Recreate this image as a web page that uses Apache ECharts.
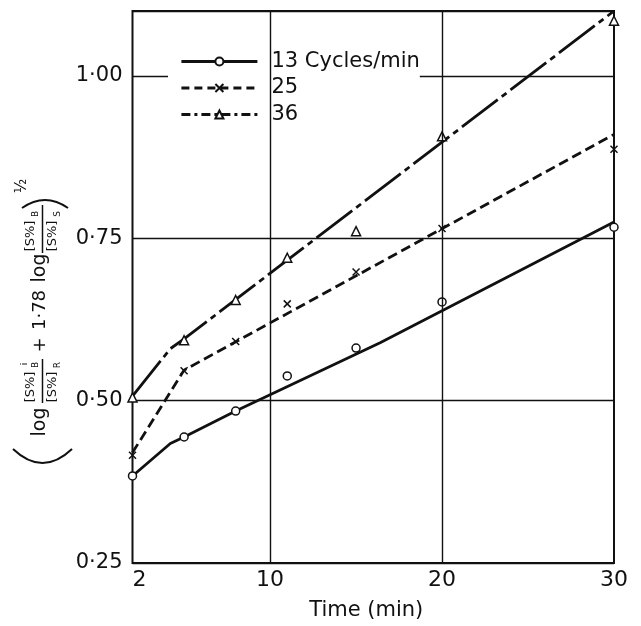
<!DOCTYPE html>
<html>
<head>
<meta charset="utf-8">
<script src="https://cdn.jsdelivr.net/npm/echarts@6/dist/echarts.min.js"></script>
<style>html,body{margin:0;padding:0;background:#fff;}#c{width:641px;height:626px;}</style>
</head>
<body>
<div id="c"></div>
<script>
// ---- data ----
const seriesNames = ['13 Cycles/min', '25', '36'];
const times = [2, 5, 8, 11, 15, 20, 30];
const pts13 = [0.384, 0.444, 0.484, 0.538, 0.581, 0.652, 0.767];
const pts25 = [0.416, 0.546, 0.591, 0.649, 0.698, 0.765, 0.887];
const pts36 = [0.505, 0.593, 0.655, 0.720, 0.761, 0.907, 1.085];
// fitted (hand-drawn) lines
const fitT13 = [2, 4.2, 5, 8, 16.4, 30];
const fitV13 = [0.384, 0.434, 0.444, 0.484, 0.589, 0.775];
const fitT25 = [2, 5, 30];
const fitV25 = [0.42, 0.547, 0.91];
const fitT36 = [2, 4.2, 5, 30];
const fitV36 = [0.507, 0.580, 0.595, 1.10];
const xTicks = [2, 10, 20, 30];
const yTicks = [0.25, 0.50, 0.75, 1.00];
const xGridLines = [10, 20];

const FONT = 'DejaVu Sans';
const INK = '#111';
const zip = (a, b) => a.map((v, i) => [v, b[i]]);
const crossPath = 'path://M0,0L10,10M10,0L0,10';

function lineSeries(name, t, v, dash, symbol, symbolSize) {
  return {
    name, type: 'line', data: zip(t, v), showSymbol: false,
    symbol, symbolSize,
    itemStyle: { color: symbol === crossPath ? INK : '#fff', borderColor: INK, borderWidth: 1.5 },
    lineStyle: { color: INK, width: 2.8, type: dash },
    emphasis: { disabled: true }, silent: true, z: 3
  };
}
function pointSeries(name, v, symbol, size) {
  return {
    name: name + ' pts', type: 'scatter', data: zip(times, v),
    symbol, symbolSize: size,
    itemStyle: { color: symbol === crossPath ? INK : '#fff', borderColor: INK, borderWidth: 1.5, opacity: 1 },
    emphasis: { disabled: true }, silent: true, z: 4
  };
}

const s13 = lineSeries(seriesNames[0], fitT13, fitV13, 'solid', 'circle', 8);
s13.markLine = {
  silent: true, symbol: ['none', 'none'], label: { show: false },
  lineStyle: { color: INK, width: 1.4, type: 'solid' },
  emphasis: { disabled: true },
  data: xGridLines.map(x => ({ xAxis: x }))
};
s13.z = 2;

// y-axis title pieces (rotated text)
function rt(text, x, y, size) {
  return { type: 'text', x, y, rotation: Math.PI / 2, silent: true,
    style: { text, fontSize: size, fontFamily: FONT, fill: INK, align: 'center', verticalAlign: 'middle' } };
}
function vbar(x, y1, y2) {
  return { type: 'line', silent: true, shape: { x1: x, y1, x2: x, y2 }, style: { stroke: INK, lineWidth: 1.5 } };
}
function paren(x1, x2, y, cpy) {
  return { type: 'bezierCurve', silent: true,
    shape: { x1, y1: y, x2, y2: y, cpx1: (x1 + x2) / 2, cpy1: cpy },
    style: { stroke: INK, lineWidth: 2, fill: null } };
}
const titleEls = [
  paren(13, 72, 449, 477),
  rt('log', 40, 422, 19),
  rt('[S%]', 31, 387, 13), rt('B', 36, 365, 9), rt('i', 25, 364, 9),
  vbar(42.5, 359, 403),
  rt('[S%]', 53, 387, 13), rt('R', 58, 365, 9),
  rt('+', 40, 345, 18),
  rt('1·78', 40, 310, 18),
  rt('log', 40, 268, 19),
  rt('[S%]', 31, 236, 13), rt('B', 36, 214, 9),
  vbar(42.5, 205, 253),
  rt('[S%]', 53, 236, 13), rt('S', 58, 214, 9),
  paren(22, 68, 208, 192),
  rt('½', 22, 186, 15)
];

const chart = echarts.init(document.getElementById('c'), null, { renderer: 'canvas' });
chart.setOption({
  animation: false,
  backgroundColor: '#fff',
  textStyle: { fontFamily: FONT, color: INK },
  grid: { left: 132.5, right: 27, top: 11, bottom: 59, show: true, borderColor: INK, borderWidth: 2, backgroundColor: 'transparent' },
  legend: {
    orient: 'vertical', left: 168, top: 44.5, padding: [6.5, 0, 2.5, 12],
    backgroundColor: '#fff', itemGap: 5.5, itemWidth: 76, itemHeight: 10,
    data: [
      { name: seriesNames[0], lineStyle: { color: INK, width: 2.8, type: 'solid' } },
      { name: seriesNames[1], lineStyle: { color: INK, width: 2.8, type: [8, 5] } },
      { name: seriesNames[2], lineStyle: { color: INK, width: 2.8, type: [9, 4, 3, 4] } }
    ],
    selectedMode: false,
    textStyle: { fontSize: 21, lineHeight: 21, color: INK, fontFamily: FONT, padding: [0, 0, 0, 9] }
  },
  xAxis: {
    type: 'value', min: 2, max: 30,
    name: 'Time (min)', nameLocation: 'middle', nameGap: 37,
    nameTextStyle: { fontSize: 21, color: INK, fontFamily: FONT, padding: [0, 14, 0, 0] },
    axisLine: { show: false }, axisTick: { show: false, customValues: xTicks },
    splitLine: { show: false },
    axisLabel: { customValues: xTicks, fontSize: 22, color: INK, margin: 6, fontFamily: FONT, alignMinLabel: 'left',
      formatter: v => String(v) }
  },
  yAxis: {
    type: 'value', min: 0.25, max: 1.10, interval: 0.25,
    axisLine: { show: false }, axisTick: { show: false },
    splitLine: { show: true, lineStyle: { color: INK, width: 1.4 } },
    axisLabel: { fontSize: 21, color: INK, margin: 10, fontFamily: FONT,
      formatter: v => yTicks.some(t => Math.abs(t - v) < 1e-6) ? v.toFixed(2).replace('.', '·') : '' }
  },
  graphic: { elements: titleEls },
  series: [
    s13,
    lineSeries(seriesNames[1], fitT25, fitV25, [10, 5], crossPath, 7),
    lineSeries(seriesNames[2], fitT36, fitV36, [45, 5, 6, 5], 'triangle', 9),
    pointSeries(seriesNames[0], pts13, 'circle', 8),
    pointSeries(seriesNames[1], pts25, crossPath, 7),
    pointSeries(seriesNames[2], pts36, 'triangle', 9)
  ]
});
</script>
</body>
</html>
